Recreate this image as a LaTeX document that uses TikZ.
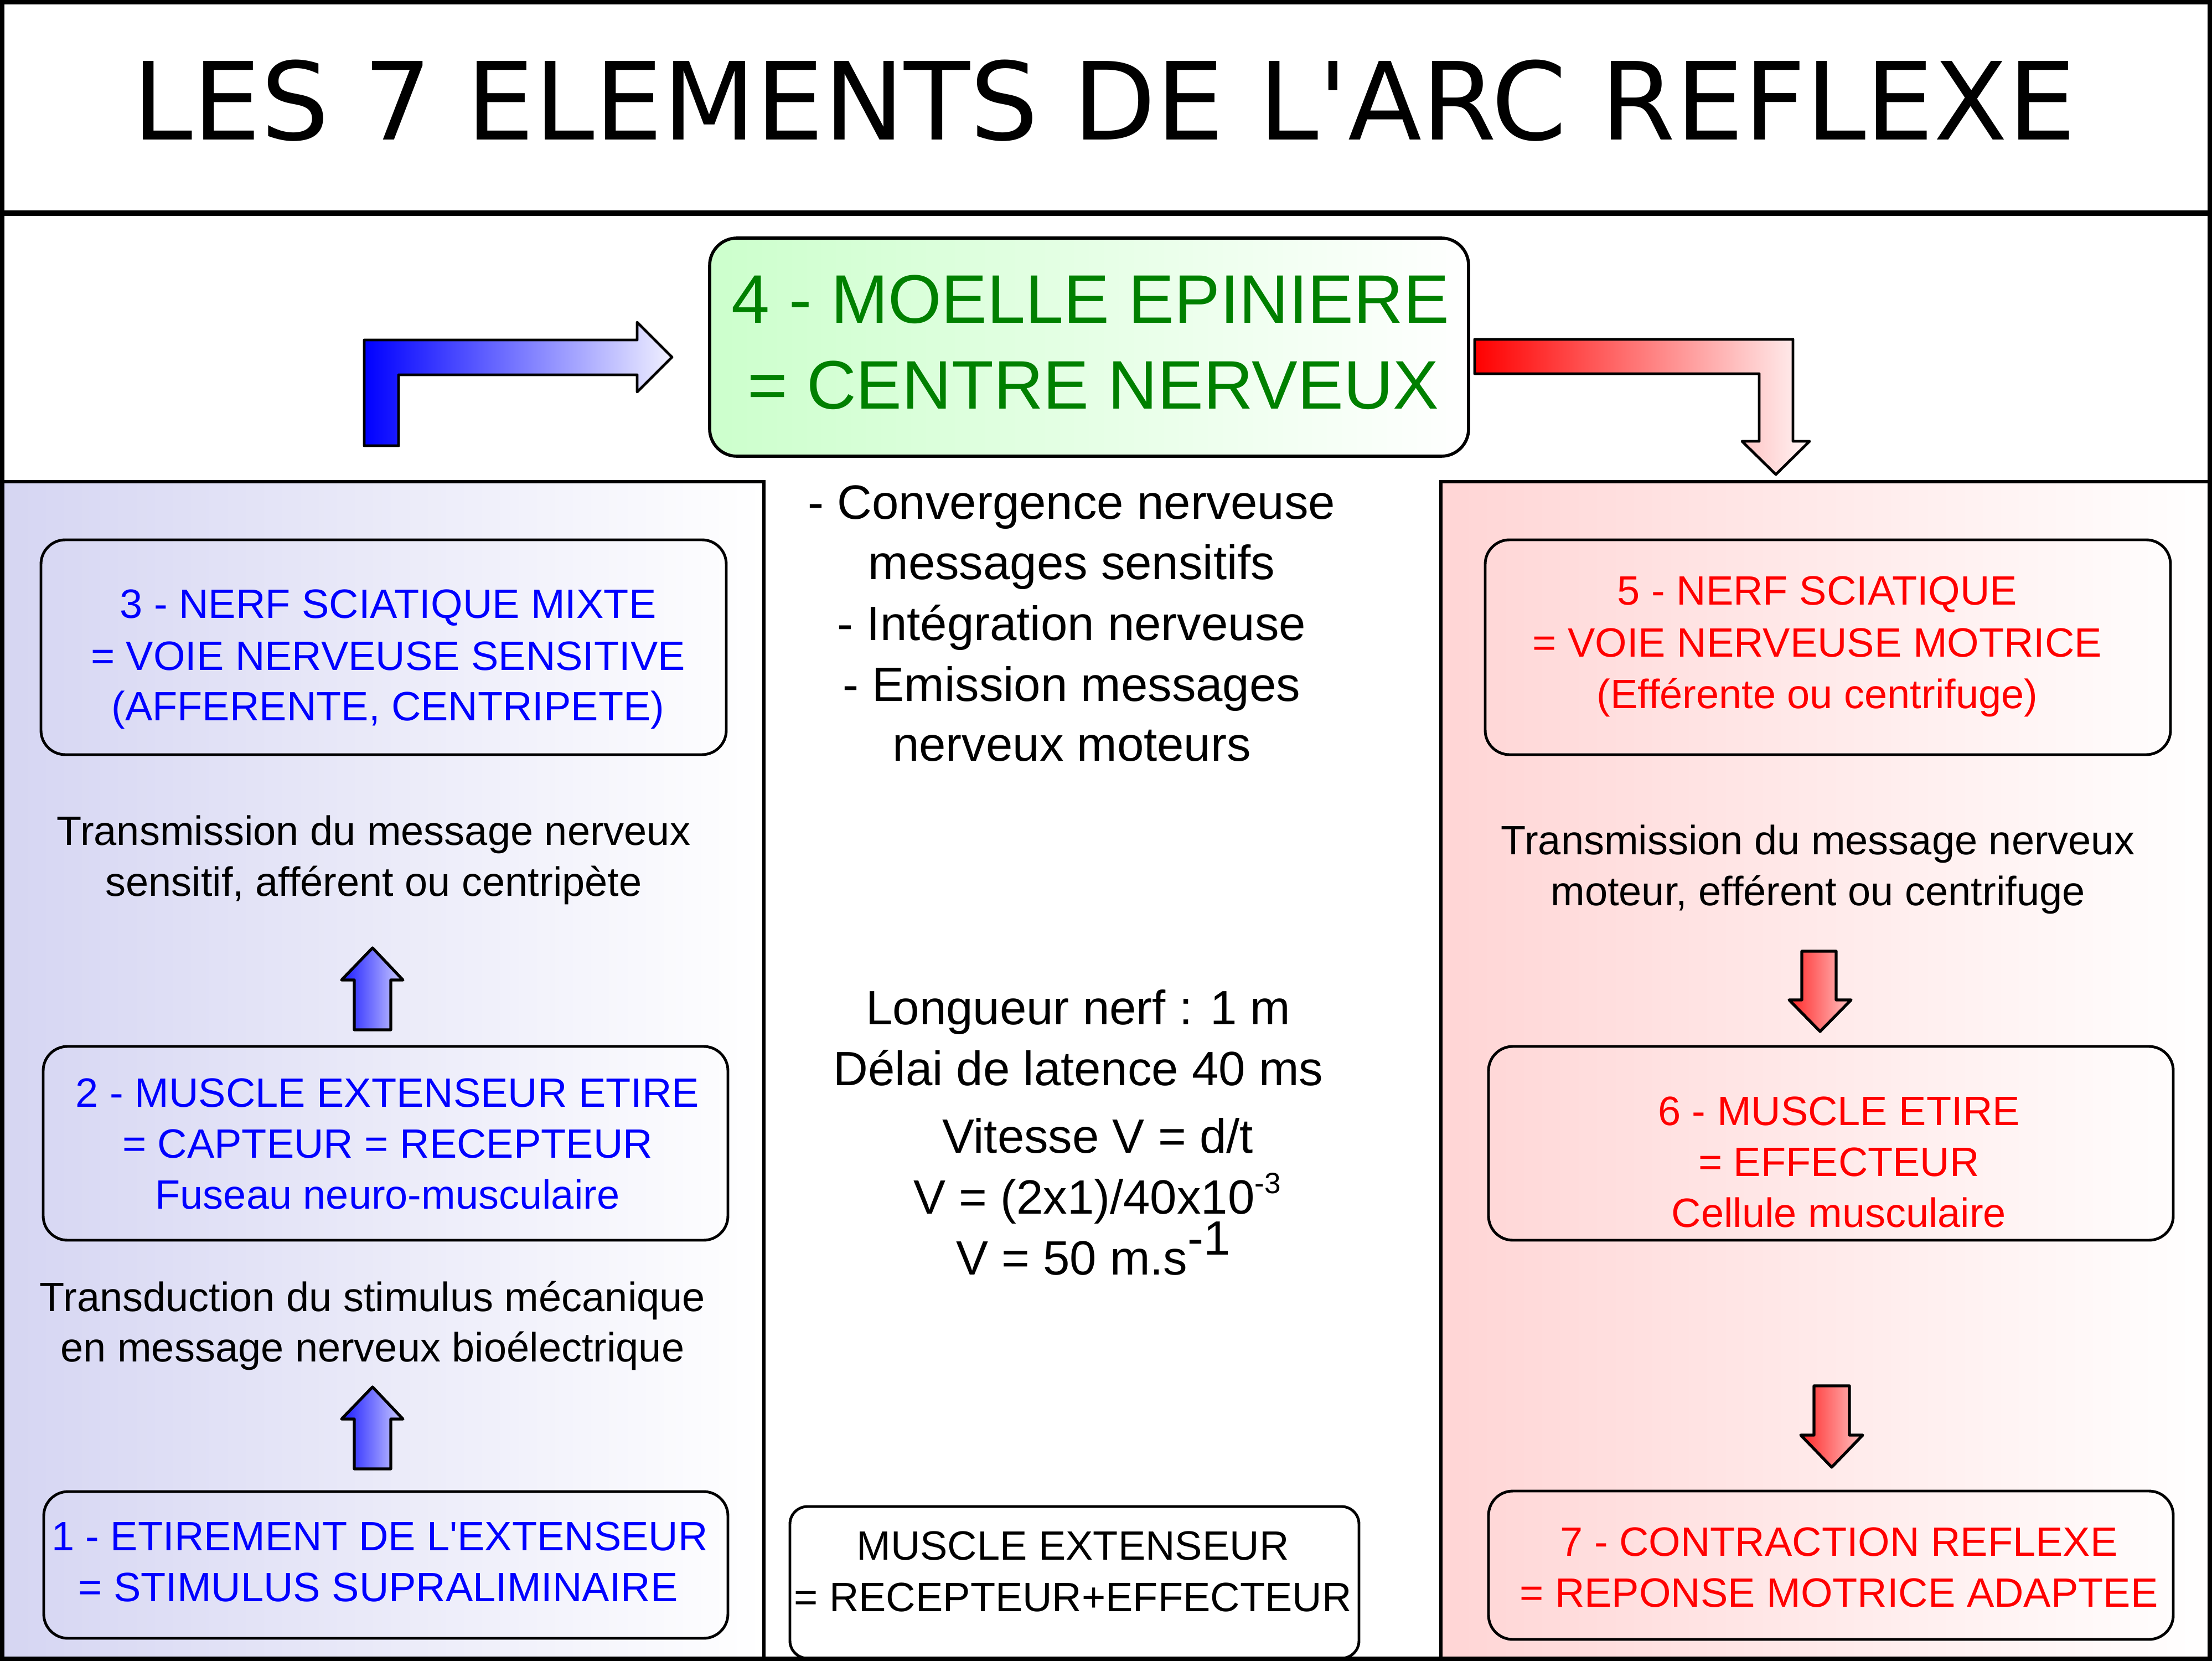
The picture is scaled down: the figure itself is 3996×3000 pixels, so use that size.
\documentclass[tikz,border=0pt]{standalone}
\usepackage{fontspec}
\setmainfont{Liberation Sans}
\newfontfamily\arial{Liberation Sans}
\newfontfamily\titlefont{DejaVu Sans}
\definecolor{tblue}{RGB}{0,0,255}
\definecolor{tred}{RGB}{255,0,0}
\definecolor{tgreen}{RGB}{0,128,0}
\definecolor{pblue}{RGB}{213,213,242}
\definecolor{pred}{RGB}{255,213,213}
\definecolor{pgreen}{RGB}{204,255,204}
\definecolor{abluelight}{RGB}{240,240,255}
\definecolor{aredlight}{RGB}{255,245,245}
\definecolor{sblue}{RGB}{26,26,255}
\definecolor{sbluelight}{RGB}{205,205,255}
\definecolor{sred}{RGB}{255,40,40}
\definecolor{sredlight}{RGB}{255,195,195}
\begin{document}
\begin{tikzpicture}[x=0.1mm,y=-0.1mm,
  rbox/.style={draw, line width=1.4pt, rounded corners=12.5pt, inner sep=0pt},
  btxt/.style={anchor=base, inner sep=0pt, font=\arial\fontsize{21.05pt}{25pt}\selectfont},
  mtxt/.style={anchor=base, inner sep=0pt, font=\arial\fontsize{24.75pt}{30pt}\selectfont},
  gtxt/.style={anchor=base, inner sep=0pt, text=tgreen, font=\arial\fontsize{35.3pt}{42pt}\selectfont},
  blk/.style={draw, line width=1.4pt, line join=round},
]
\useasboundingbox (0,0) rectangle (3996,3000);
\fill[white] (0,0) rectangle (3996,3000);
% panels
\shade[left color=pblue, right color=white] (0,870) rectangle (1380,3000);
\shade[left color=pred, right color=white] (2603,870) rectangle (3996,3000);
\draw[line width=1.7pt] (0,870) -- (1380,870) -- (1380,3000);
\draw[line width=1.7pt] (3996,870) -- (2603,870) -- (2603,3000);
% frame and title band
\draw[line width=2.3pt] (4,4) rectangle (3992,2996);
\draw[line width=2.8pt] (0,385) -- (3996,385);
\node[anchor=base, inner sep=0pt, font=\titlefont\fontsize{55.4pt}{60pt}\selectfont] (title) at (1995,253) {LES 7 ELEMENTS DE L'ARC REFLEXE};

% green box
\node[rbox, rounded corners=14pt, line width=1.6pt, left color=pgreen, right color=white, minimum width=137.1mm, minimum height=39.4mm] (g) at (1967.5,627) {};
\node[gtxt] (g1) at (1970,584) {4 - MOELLE EPINIERE};
\node[gtxt] (g2) at (1975,739) {= CENTRE NERVEUX};

% big arrows
\draw[blk, left color=blue, right color=abluelight] (658,805) -- (658,614) -- (1151,614) -- (1151,582) -- (1214,645) -- (1151,708) -- (1151,677) -- (720,677) -- (720,805) -- cycle;
\draw[blk, left color=red, right color=aredlight] (2664,613) -- (3239,613) -- (3239,797) -- (3269,797) -- (3208,857) -- (3147,797) -- (3178,797) -- (3178,675) -- (2664,675) -- cycle;

% left column
\node[rbox, minimum width=123.8mm, minimum height=38.8mm] (b3) at (693,1169) {};
\node[btxt, text=tblue] (b3a) at (701,1116) {3 - NERF SCIATIQUE MIXTE};
\node[btxt, text=tblue] (b3b) at (701,1210) {= VOIE NERVEUSE SENSITIVE};
\node[btxt, text=tblue] (b3c) at (701,1301) {(AFFERENTE, CENTRIPETE)};
\node[btxt] (l1a) at (675,1526) {Transmission du message nerveux};
\node[btxt] (l1b) at (675,1618) {sensitif, afférent ou centripète};
\draw[blk, line width=1.5pt, left color=sblue, right color=sbluelight] (640,1860) -- (640,1770) -- (617,1770) -- (673,1712) -- (728,1770) -- (706,1770) -- (706,1860) -- cycle;
\node[rbox, minimum width=123.7mm, minimum height=35mm] (b2) at (696.5,2065) {};
\node[btxt, text=tblue] (b2a) at (700,1999) {2 - MUSCLE EXTENSEUR ETIRE};
\node[btxt, text=tblue] (b2b) at (700,2091) {= CAPTEUR = RECEPTEUR};
\node[btxt, text=tblue] (b2c) at (700,2183) {Fuseau neuro-musculaire};
\node[btxt] (l2a) at (673,2368) {Transduction du stimulus mécanique};
\node[btxt] (l2b) at (673,2459) {en message nerveux bioélectrique};
\draw[blk, line width=1.5pt, left color=sblue, right color=sbluelight] (640,2653) -- (640,2563) -- (617,2563) -- (673,2505) -- (728,2563) -- (706,2563) -- (706,2653) -- cycle;
\node[rbox, minimum width=123.6mm, minimum height=26.5mm] (b1) at (697,2826.5) {};
\node[btxt, text=tblue] (b1a) at (686,2800) {1 - ETIREMENT DE L'EXTENSEUR};
\node[btxt, text=tblue] (b1b) at (683,2892) {= STIMULUS SUPRALIMINAIRE};

% middle column
\node[mtxt] (m1) at (1936,938) {- Convergence nerveuse};
\node[mtxt] (m2) at (1936,1047) {messages sensitifs};
\node[mtxt] (m3) at (1936,1157) {- Intégration nerveuse};
\node[mtxt] (m4) at (1936,1266) {- Emission messages};
\node[mtxt] (m5) at (1936,1374) {nerveux moteurs};
\node[mtxt] (n1) at (1948,1850) {Longueur nerf : 1 m};
\node[mtxt] (n2) at (1948,1960) {Délai de latence 40 ms};
\node[mtxt] (n3) at (1983,2082) {Vitesse V = d/t};
\node[mtxt] (n4) at (1982,2192) {V = (2x1)/40x10\raisebox{10.5pt}{\fontsize{15.1pt}{18pt}\selectfont -3}};
\node[mtxt] (n5) at (1975,2302) {V = 50 m.s\raisebox{10pt}{-1}};
\node[rbox, rounded corners=9pt, minimum width=102.8mm, minimum height=27.4mm] (mb) at (1941,2858) {};
\node[btxt] (mba) at (1938,2817) {MUSCLE EXTENSEUR};
\node[btxt] (mbb) at (1938,2910) {= RECEPTEUR+EFFECTEUR};

% right column
\node[rbox, minimum width=123.8mm, minimum height=38.8mm] (b5) at (3302,1169) {};
\node[btxt, text=tred] (b5a) at (3283,1093) {5 - NERF SCIATIQUE};
\node[btxt, text=tred] (b5b) at (3283,1187) {= VOIE NERVEUSE MOTRICE};
\node[btxt, text=tred] (b5c) at (3283,1279) {(Efférente ou centrifuge)};
\node[btxt] (r1a) at (3284,1543) {Transmission du message nerveux};
\node[btxt] (r1b) at (3284,1635) {moteur, efférent ou centrifuge};
\draw[blk, line width=1.5pt, left color=sred, right color=sredlight] (3255,1718) -- (3317,1718) -- (3317,1806) -- (3344,1806) -- (3288,1863) -- (3232,1806) -- (3255,1806) -- cycle;
\node[rbox, minimum width=123.7mm, minimum height=35mm] (b6) at (3307.5,2065) {};
\node[btxt, text=tred] (b6a) at (3322,2032) {6 - MUSCLE ETIRE};
\node[btxt, text=tred] (b6b) at (3322,2124) {= EFFECTEUR};
\node[btxt, text=tred] (b6c) at (3322,2216) {Cellule musculaire};
\draw[blk, line width=1.5pt, left color=sred, right color=sredlight] (3277,2503) -- (3341,2503) -- (3341,2592) -- (3365,2592) -- (3309,2650) -- (3253,2592) -- (3277,2592) -- cycle;
\node[rbox, minimum width=123.7mm, minimum height=26.8mm] (b7) at (3307.5,2827) {};
\node[btxt, text=tred] (b7a) at (3322,2810) {7 - CONTRACTION REFLEXE};
\node[btxt, text=tred] (b7b) at (3322,2902) {= REPONSE MOTRICE ADAPTEE};
\end{tikzpicture}
\end{document}
